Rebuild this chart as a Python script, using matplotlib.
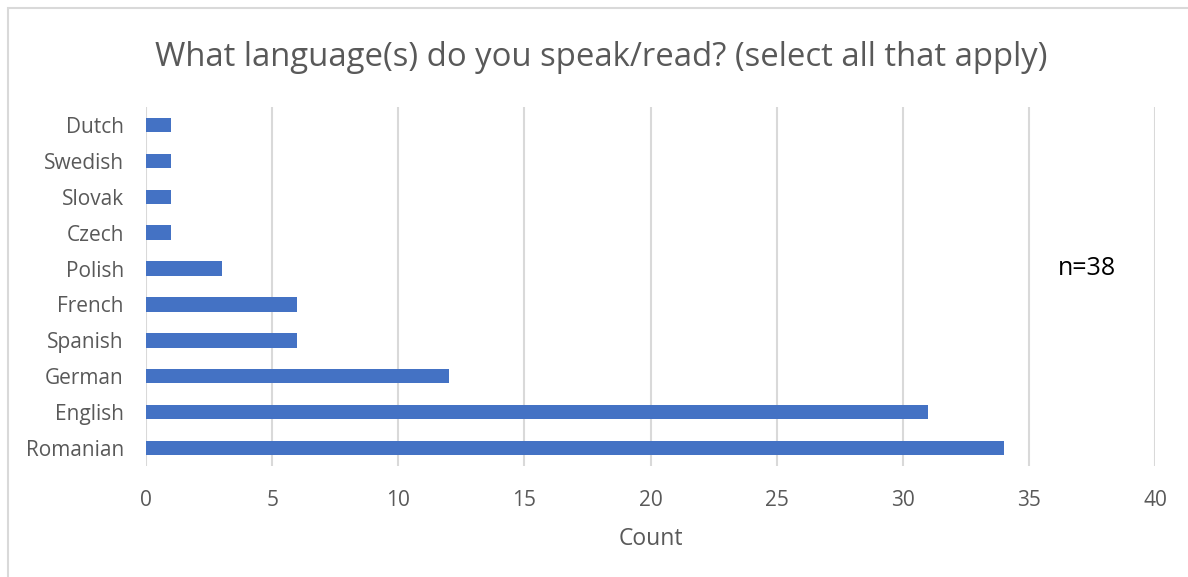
import matplotlib.pyplot as plt
from matplotlib.patches import Rectangle

languages = ["Romanian", "English", "German", "Spanish", "French",
             "Polish", "Czech", "Slovak", "Swedish", "Dutch"]
counts = [34, 31, 12, 6, 6, 3, 1, 1, 1, 1]
xticks = [0, 5, 10, 15, 20, 25, 30, 35, 40]

plt.rcParams['font.family'] = ['Open Sans', 'DejaVu Sans']
grey = '#595959'

fig = plt.figure(figsize=(11.88, 5.77), dpi=100)
ax = fig.add_axes([146 / 1188, 1 - 466 / 577, 1009 / 1188, 359 / 577])

# light frame around the chart area
fig.patches.append(Rectangle((8 / 1188, -0.05), 1.1, 1 - 8 / 577 + 0.05,
                             transform=fig.transFigure, fill=False,
                             edgecolor='#d9d9d9', linewidth=1.5))

ax.barh(range(len(languages)), counts, height=0.4, color='#4472c4', zorder=3)
ax.set_yticks(range(len(languages)))
ax.set_yticklabels(languages)
ax.set_ylim(-0.5, len(languages) - 0.5)
ax.set_xlim(0, 40)
ax.set_xticks(xticks)
ax.grid(axis='x', color='#d9d9d9', linewidth=1.5, zorder=0)
ax.tick_params(length=0, labelsize=15, labelcolor=grey)
ax.tick_params(axis='y', pad=16)
ax.tick_params(axis='x', pad=17)
for s in ax.spines.values():
    s.set_visible(False)

ax.set_xlabel('Count', fontsize=16.5, color=grey, labelpad=12)
fig.text(601 / 1188, 1 - 57 / 577, 'What language(s) do you speak/read? (select all that apply)',
         ha='center', va='center', fontsize=23.7, color=grey)
ax.text(37.3, 5, 'n=38', ha='center', va='center', fontsize=18, color='black')

fig.savefig('out.png', dpi=100)
